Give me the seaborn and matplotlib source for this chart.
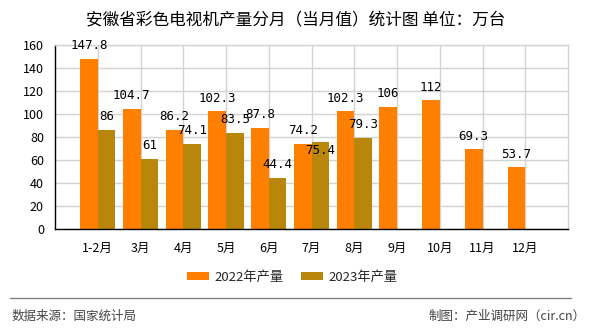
import numpy as np
import pandas as pd
import matplotlib
matplotlib.use("Agg")
import matplotlib.pyplot as plt
from matplotlib.patches import Patch
from matplotlib.lines import Line2D
import seaborn as sns

# ---- data ----
months = ["1-2月", "3月", "4月", "5月", "6月", "7月", "8月", "9月", "10月", "11月", "12月"]
y2022 = [147.8, 104.7, 86.2, 102.3, 87.8, 74.2, 102.3, 106, 112, 69.3, 53.7]
y2023 = [86, 61, 74.1, 83.5, 44.4, 75.4, 79.3, np.nan, np.nan, np.nan, np.nan]
series = ["2022年产量", "2023年产量"]
colors = ["#FF8000", "#B8860B"]
yticks = [0, 20, 40, 60, 80, 100, 120, 140, 160]
title = "安徽省彩色电视机产量分月（当月值）统计图 单位：万台"
source_left = "数据来源：国家统计局"
source_right = "制图：产业调研网（cir.cn）"

sns.set_theme(style="white")
plt.rcParams["font.family"] = ["Noto Sans CJK SC", "DejaVu Sans"]

W, H = 590, 330
fig = plt.figure(figsize=(W / 100, H / 100), dpi=100)
fig.patch.set_facecolor("white")
ax = fig.add_axes([55 / W, 101 / H, 513 / W, 184 / H])

df = pd.DataFrame({
    "月份": months * 2,
    "产量": y2022 + y2023,
    "年份": [series[0]] * len(months) + [series[1]] * len(months),
})
sns.barplot(data=df, x="月份", y="产量", hue="年份", hue_order=series,
            palette=colors, width=0.82, saturation=1, ax=ax,
            legend=False, errorbar=None, linewidth=0, edgecolor="none")

ax.set_xlim(-1, 11)
ax.set_ylim(0, 160)
ax.set_yticks(yticks)
ax.set_xlabel("")
ax.set_ylabel("")
ax.set_axisbelow(True)
ax.grid(True, axis="both", color="#D3D3D3", linewidth=1)
for s in ["top", "right"]:
    ax.spines[s].set_color("#D3D3D3")
    ax.spines[s].set_linewidth(1)
for s in ["left", "bottom"]:
    ax.spines[s].set_color("black")
    ax.spines[s].set_linewidth(1)
ax.set_xticks([-1, 11], minor=True)
ax.tick_params(axis="both", which="both", direction="out", length=5,
               width=1, color="black", labelsize=9, labelcolor="black", pad=3)
ax.tick_params(axis="x", which="major", pad=4)

# value labels (a label that would collide with its left neighbour drops below the bar top)
for ci, cont in enumerate(ax.containers):
    for bi, bar in enumerate(cont):
        h = bar.get_height()
        if h is None or np.isnan(h):
            continue
        dy = 9.5
        if ci == 1 and abs(h - y2022[bi]) < 6:
            dy = -6
        ax.annotate(f"{h:g}", (bar.get_x() + bar.get_width() / 2, h),
                    xytext=(0, dy), textcoords="offset points",
                    ha="center", va="center", fontsize=9, color="black",
                    family=["DejaVu Sans Mono", "Noto Sans CJK SC"])

# legend
handles = [Patch(facecolor=c, edgecolor="none") for c in colors]
fig.legend(handles, series, loc="center", bbox_to_anchor=(292 / W, 1 - 277 / H),
           ncol=2, frameon=False, fontsize=9.5, handlelength=1.7,
           handleheight=0.6, handletextpad=0.4, columnspacing=1.3)

# title
fig.text(296 / W, 1 - 21 / H, title, ha="center", va="center", fontsize=12, color="black")

# footer
fig.add_artist(Line2D([10 / W, 571 / W], [1 - 298 / H, 1 - 298 / H],
                      transform=fig.transFigure, color="#808080", linewidth=1))
fig.text(12 / W, 1 - 316 / H, source_left, ha="left", va="center", fontsize=9, color="#444444")
fig.text(586 / W, 1 - 316 / H, source_right, ha="right", va="center", fontsize=9, color="#444444")

fig.savefig("out.png", dpi=100)
